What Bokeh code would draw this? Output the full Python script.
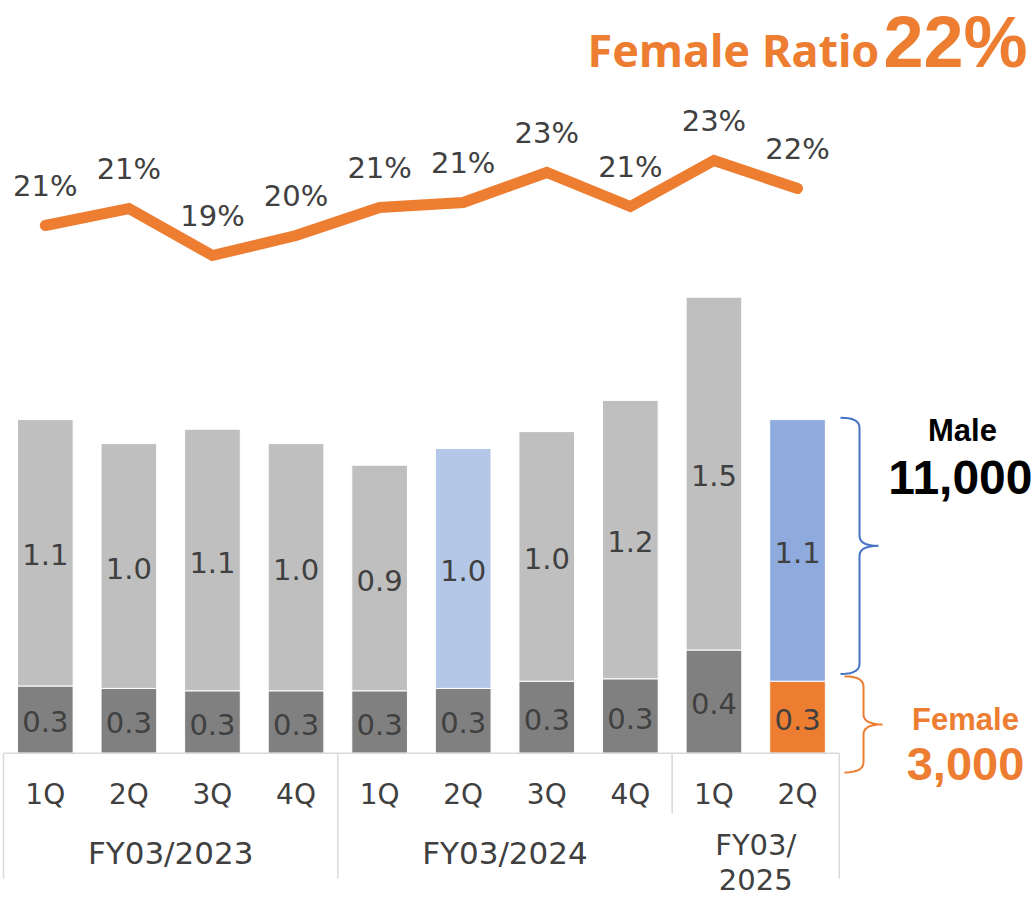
import numpy as np
from bokeh.plotting import figure
from bokeh.models import ColumnDataSource, Range1d
from bokeh.core.properties import value
from bokeh.embed import file_html
from bokeh.resources import INLINE

# ---------------- data ----------------
quarters = ["1Q", "2Q", "3Q", "4Q", "1Q", "2Q", "3Q", "4Q", "1Q", "2Q"]
fiscal_years = ["FY03/2023", "FY03/2024", "FY03/\n2025"]
fy_spans = [(0, 3), (4, 7), (8, 9)]
female = [0.28, 0.27, 0.26, 0.26, 0.26, 0.27, 0.30, 0.31, 0.43, 0.30]   # (10k persons)
male = [1.11, 1.02, 1.09, 1.03, 0.94, 1.00, 1.04, 1.16, 1.47, 1.09]
female_ratio = [20.55, 21.23, 19.35, 20.15, 21.27, 21.47, 22.67, 21.31, 23.15, 22.03]  # %
headline_ratio = "22%"
male_total_label = "11,000"
female_total_label = "3,000"

# ---------------- styles ----------------
male_colors = ["#BFBFBF"] * 10
male_colors[5] = "#B4C7E7"
male_colors[9] = "#8FAADC"
female_colors = ["#808080"] * 10
female_colors[9] = "#ED7D31"
ORANGE = "#ED7D31"
BLUE = "#4472C4"
TXT = "#404040"
AXIS_LINE = "#D9D9D9"

W, H = 1036, 897
OFF = 0
PX_X = 83.58          # px per category
PX_Y = 240.0          # px per unit of bars
X0 = -(44.8 - OFF) / PX_X
X1 = X0 + W / PX_X
Y1 = (752.7 - OFF) / PX_Y
Y0 = Y1 - H / PX_Y
PX_R = 25.0           # px per % on ratio line
R1 = 20.55 + (225 - OFF) / PX_R
R0 = R1 - H / PX_R


def px2x(px):
    return X0 + (px - OFF) / PX_X


def px2y(py):
    return Y1 - (py - OFF) / PX_Y


p = figure(width=W, height=H, x_range=Range1d(X0, X1), y_range=Range1d(Y0, Y1),
           output_backend="svg", toolbar_location=None, min_border=0)
p.extra_y_ranges = {"ratio": Range1d(R0, R1)}
p.axis.visible = False
p.xgrid.visible = False
p.ygrid.visible = False
p.outline_line_color = None
p.background_fill_color = "white"

idx = list(range(len(quarters)))
fem = np.array(female)
mal = np.array(male)
src = ColumnDataSource(dict(
    x=idx, f=fem, m_top=fem + mal, mc=male_colors, fc=female_colors,
    f_mid=fem / 2, m_mid=fem + mal / 2,
    f_lab=[f"{v:.1f}" for v in female], m_lab=[f"{v:.1f}" for v in male],
    r=female_ratio, r_lab=[f"{round(v)}%" for v in female_ratio],
))

# bars
p.vbar(x="x", bottom=0, top="f", width=0.666, fill_color="fc", line_color="white",
       line_width=1, source=src)
p.vbar(x="x", bottom="f", top="m_top", width=0.666, fill_color="mc", line_color="white",
       line_width=1, source=src)

# bar labels
p.text(x="x", y="f_mid", text="f_lab", text_align="center", text_baseline="middle",
       y_offset=2, text_font=value("DejaVu Sans"), text_font_size="29px",
       text_color=TXT, source=src)
p.text(x="x", y="m_mid", text="m_lab", text_align="center", text_baseline="middle",
       y_offset=2, text_font=value("DejaVu Sans"), text_font_size="29px",
       text_color=TXT, source=src)

# ratio line
p.line(x="x", y="r", y_range_name="ratio", line_color=ORANGE, line_width=11,
       line_cap="round", line_join="miter", source=src)
p.text(x="x", y="r", text="r_lab", y_range_name="ratio", text_align="center",
       text_baseline="middle", y_offset=-40, text_font=value("DejaVu Sans"),
       text_font_size="29px", text_color=TXT, source=src)

# category axis box
left = -0.5
p.segment(x0=[left], y0=[0], x1=[len(quarters) - 0.5], y1=[0],
          line_color=AXIS_LINE, line_width=1.5)
bottom_y = px2y(878)
mid_y = px2y(813)
sep_x = [left] + [s[1] + 0.5 for s in fy_spans]
sep_y1 = []
for k, sx in enumerate(sep_x):
    # the separator inside the narrow last group is covered by its wrapped label
    sep_y1.append(mid_y if k == len(fy_spans) - 1 else bottom_y)
p.segment(x0=sep_x, y0=[0] * len(sep_x), x1=sep_x, y1=sep_y1,
          line_color=AXIS_LINE, line_width=1.5)

p.text(x=idx, y=[0] * len(idx), text=quarters, text_align="center", text_baseline="middle",
       y_offset=41, text_font=value("DejaVu Sans"), text_font_size="28px", text_color=TXT)

# fiscal-year labels (wrapped ones drawn line by line)
fy_tx, fy_ty, fy_off, fy_size = [], [], [], []
for (a, b), lab in zip(fy_spans, fiscal_years):
    lines = lab.split("\n")
    n = len(lines)
    for j, ln in enumerate(lines):
        fy_tx.append((a + b) / 2)
        fy_ty.append(ln)
        fy_off.append(100 if n == 1 else 92 + j * 34)
        fy_size.append("31px" if n == 1 else "29px")
p.text(x=fy_tx, y=[0] * len(fy_tx), text=fy_ty, text_align="center",
       text_baseline="middle", y_offset=fy_off,
       text_font=value("DejaVu Sans"), text_font_size=fy_size, text_color=TXT)

# headline
p.text(x=[px2x(879)], y=[px2y(49)], text=["Female Ratio"], text_align="right",
       text_baseline="middle", text_font=value("Noto Sans"), text_font_style="bold",
       text_font_size="45px", text_color=ORANGE)
p.text(x=[px2x(1027)], y=[px2y(41)], text=[headline_ratio], text_align="right",
       text_baseline="middle", text_font=value("Liberation Sans"), text_font_style="bold",
       text_font_size="72px", text_color=ORANGE)


# braces
def brace(x_spine_px, top, bot, color, tip=19, r=10):
    ys_top = (Y1 - top) * PX_Y + OFF
    ys_bot = (Y1 - bot) * PX_Y + OFF
    mid = (ys_top + ys_bot) / 2
    pts = []

    def quad(p0, c, p1, n=8):
        t = np.linspace(0, 1, n)
        xs_ = (1 - t) ** 2 * p0[0] + 2 * (1 - t) * t * c[0] + t ** 2 * p1[0]
        ys_ = (1 - t) ** 2 * p0[1] + 2 * (1 - t) * t * c[1] + t ** 2 * p1[1]
        return list(zip(xs_, ys_))

    xs_ = x_spine_px
    pts += quad((xs_ - tip, ys_top), (xs_, ys_top), (xs_, ys_top + r))
    pts += quad((xs_, mid - r), (xs_, mid), (xs_ + tip, mid))
    pts += quad((xs_ + tip, mid), (xs_, mid), (xs_, mid + r))
    pts += quad((xs_, ys_bot - r), (xs_, ys_bot), (xs_ - tip, ys_bot))
    bx = [px2x(a) for a, _ in pts]
    by = [px2y(b) for _, b in pts]
    p.line(bx, by, line_color=color, line_width=2)


last = len(quarters) - 1
brace(859, female[last] + male[last] + 0.008, female[last] + 0.03, BLUE)
brace(863, female[last] + 0.02, -0.08, ORANGE)

# right-side annotations
p.text(x=[px2x(962)], y=[px2y(430)], text=["Male"], text_align="center",
       text_baseline="middle", text_font=value("Liberation Sans"),
       text_font_style="bold", text_font_size="31px", text_color="black")
p.text(x=[px2x(1032)], y=[px2y(477)], text=[male_total_label], text_align="right",
       text_baseline="middle", text_font=value("Liberation Sans"),
       text_font_style="bold", text_font_size="48px", text_color="black")
p.text(x=[px2x(965)], y=[px2y(719)], text=["Female"], text_align="center",
       text_baseline="middle", text_font=value("Liberation Sans"),
       text_font_style="bold", text_font_size="31px", text_color=ORANGE)
p.text(x=[px2x(965)], y=[px2y(763)], text=[female_total_label], text_align="center",
       text_baseline="middle", text_font=value("Liberation Sans"),
       text_font_style="bold", text_font_size="47px", text_color=ORANGE)

open("out.html", "w").write(file_html(p, INLINE))
